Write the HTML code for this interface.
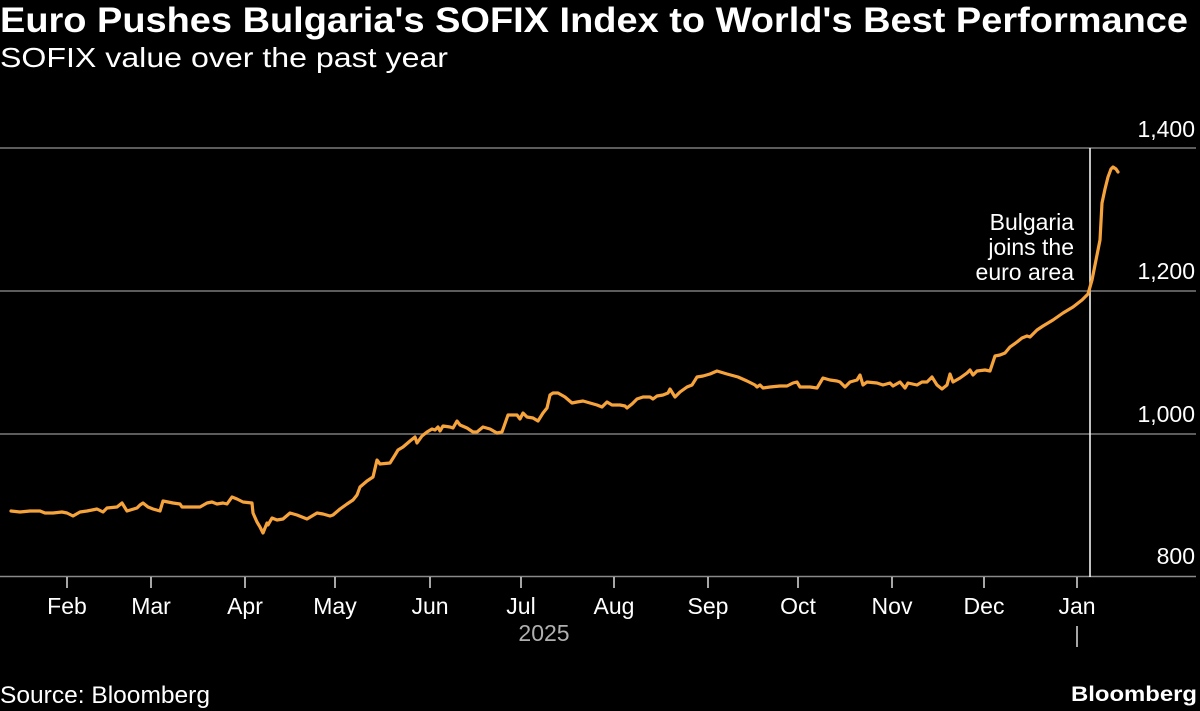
<!DOCTYPE html>
<html>
<head>
<meta charset="utf-8">
<style>
html,body{margin:0;padding:0;background:#000;}
svg{display:block;}
text{font-family:"Liberation Sans","DejaVu Sans",sans-serif;}
</style>
</head>
<body>
<svg width="1200" height="711" viewBox="0 0 1200 711" xmlns="http://www.w3.org/2000/svg">
<rect x="0" y="0" width="1200" height="711" fill="#000"/>
<text x="0" y="32" font-size="35" font-weight="bold" fill="#fff" textLength="1188" lengthAdjust="spacingAndGlyphs">Euro Pushes Bulgaria's SOFIX Index to World's Best Performance</text>
<text x="0" y="67" font-size="28" fill="#fff" textLength="448" lengthAdjust="spacingAndGlyphs">SOFIX value over the past year</text>

<!-- gridlines -->
<line x1="0" y1="148" x2="1196" y2="148" stroke="#7a7a7a" stroke-width="1.5"/>
<line x1="0" y1="291" x2="1196" y2="291" stroke="#7a7a7a" stroke-width="1.5"/>
<line x1="0" y1="434" x2="1196" y2="434" stroke="#7a7a7a" stroke-width="1.5"/>
<line x1="0" y1="576.5" x2="1196" y2="576.5" stroke="#8a8a8a" stroke-width="1.5"/>

<!-- y labels -->
<g font-size="23" fill="#fff" text-anchor="end">
<text x="1195" y="137">1,400</text>
<text x="1195" y="279">1,200</text>
<text x="1195" y="422">1,000</text>
<text x="1195" y="564">800</text>
</g>

<!-- ticks -->
<g stroke="#ddd" stroke-width="1.5">
<line x1="67" y1="577" x2="67" y2="588"/>
<line x1="151" y1="577" x2="151" y2="588"/>
<line x1="245" y1="577" x2="245" y2="588"/>
<line x1="335" y1="577" x2="335" y2="588"/>
<line x1="430" y1="577" x2="430" y2="588"/>
<line x1="521" y1="577" x2="521" y2="588"/>
<line x1="614" y1="577" x2="614" y2="588"/>
<line x1="708" y1="577" x2="708" y2="588"/>
<line x1="798" y1="577" x2="798" y2="588"/>
<line x1="892" y1="577" x2="892" y2="588"/>
<line x1="984" y1="577" x2="984" y2="588"/>
<line x1="1077" y1="577" x2="1077" y2="588"/>
<line x1="1077" y1="626" x2="1077" y2="647"/>
</g>

<g font-size="23" fill="#fff" text-anchor="middle">
<text x="67" y="614">Feb</text>
<text x="151" y="614">Mar</text>
<text x="245" y="614">Apr</text>
<text x="335" y="614">May</text>
<text x="430" y="614">Jun</text>
<text x="521" y="614">Jul</text>
<text x="614" y="614">Aug</text>
<text x="708" y="614">Sep</text>
<text x="798" y="614">Oct</text>
<text x="892" y="614">Nov</text>
<text x="984" y="614">Dec</text>
<text x="1077" y="614">Jan</text>
</g>
<text x="544" y="641" font-size="23" fill="#b0b0b0" text-anchor="middle">2025</text>

<!-- annotation -->
<line x1="1090" y1="148" x2="1090" y2="577" stroke="#fff" stroke-width="1.5"/>
<g font-size="23" fill="#fff" text-anchor="end">
<text x="1074" y="230">Bulgaria</text>
<text x="1074" y="255">joins the</text>
<text x="1074" y="280">euro area</text>
</g>

<!-- series -->
<polyline fill="none" stroke="#f7a33c" stroke-width="3.2" stroke-linejoin="round" stroke-linecap="round" points="
11,511 20,512 30,511 40,511 45,513 53,513 62,512 67,513 73,516 80,512 87,511 97,509 103,512 107,508 117,507 122,503 127,511 137,508 140,505 143,503 148,507 153,509 160,511 163,501 168,502 173,503 180,504 182,507 190,507 200,507 207,503 212,502 217,504 223,503 227,504 232,497 237,499 243,502 252,503 253,513 257,522 260,527 263,533 267,523 268,525 272,518 277,520 283,519 290,513 297,515 307,519 317,513 323,514 330,516 333,515 340,509 347,504 353,500 357,495 360,487 367,481 373,477 377,460 380,464 390,463 395,455 398,450 403,447 410,441 415,437 417,443 422,436 427,432 432,429 435,430 438,427 440,431 443,426 450,427 453,428 457,421 460,425 467,428 473,432 477,432 483,427 490,429 497,433 502,432 508,415 517,415 520,419 523,413 527,417 533,418 538,421 543,413 547,408 550,395 553,393 558,393 565,397 572,403 577,402 583,401 590,403 597,405 602,407 607,402 612,405 620,405 625,406 627,408 632,404 637,399 643,397 650,397 653,399 657,396 663,395 668,393 670,389 675,397 680,392 687,387 692,385 697,377 703,376 710,374 717,371 727,374 738,377 747,381 755,385 757,387 760,385 763,388 770,387 780,386 787,386 793,383 797,382 800,387 810,387 817,388 823,378 830,380 837,381 840,382 845,387 850,382 857,380 860,375 863,385 867,382 877,383 883,385 890,383 893,386 900,382 905,388 908,383 917,385 922,382 927,382 932,377 937,385 942,389 947,385 950,374 953,382 960,378 967,373 970,370 973,375 977,371 985,370 990,371 995,356 1000,355 1005,353 1010,347 1017,342 1022,338 1027,336 1030,337 1037,330 1043,326 1053,320 1063,313 1073,307 1082,300 1088,294 1092,280 1095,265 1098,250 1100,240 1102,203 1105,189 1108,177 1111,169 1113,167 1116,169 1118,172"/>

<!-- footer -->
<text x="0" y="703" font-size="24" fill="#fff" textLength="210" lengthAdjust="spacingAndGlyphs">Source: Bloomberg</text>
<text x="1197" y="701" font-size="21" font-weight="bold" fill="#fff" text-anchor="end" textLength="126" lengthAdjust="spacingAndGlyphs">Bloomberg</text>
</svg>
</body>
</html>
